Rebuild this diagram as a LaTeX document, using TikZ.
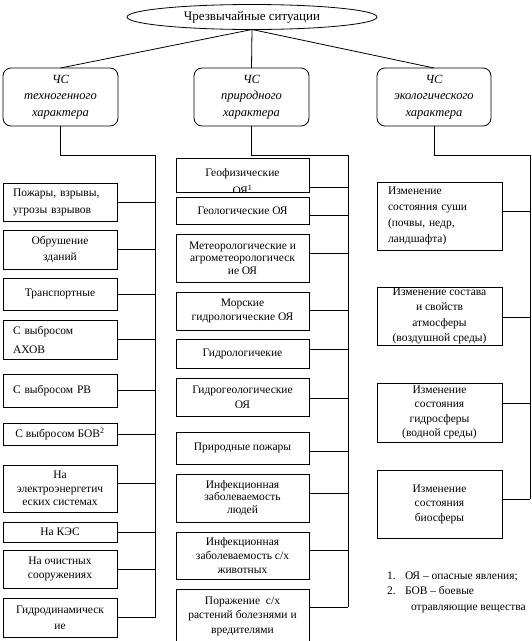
\documentclass[tikz,border=0pt]{standalone}
\usepackage{fontspec}
\setmainfont{Liberation Serif}
\usetikzlibrary{shapes.geometric}
\begin{document}
\begin{tikzpicture}[x=1pt,y=-1pt,
  every node/.style={inner sep=0pt, outer sep=0pt},
  ln/.style={line width=0.8pt},
  lead/.style={font=\fontsize{11.5}{#1}\selectfont},
  box/.style={draw, ln, rectangle, align=center, lead=13},
  lbox/.style={box, minimum width=114pt},
  mbox/.style={box, minimum width=133pt},
  rbox/.style={box, minimum width=125pt},
  lefttext/.style={align=left, text width=#1, inner xsep=10pt},
  cat/.style={draw, ln, rounded corners=8pt, minimum height=58pt, align=center,
    font=\fontsize{12.5}{16.5}\selectfont\itshape},
  fn/.style={anchor=base west, font=\fontsize{11.5}{13}\selectfont}]
\useasboundingbox (0,0) rectangle (532,641);
\fill[white] (0,0) rectangle (532,641);

% top
\node[draw, ln, ellipse, minimum width=250pt, minimum height=25pt, font=\fontsize{13}{15}\selectfont] (top) at (252,17) {Чрезвычайные ситуации};

% categories
\node[cat, minimum width=115pt] (c1) at (60.5,97) {ЧС\\техногенного\\характера};
\node[cat, minimum width=115pt] (c2) at (251.5,97) {ЧС\\природного\\характера};
\node[cat, minimum width=114pt] (c3) at (434,97) {ЧС\\экологического\\характера};

\draw[ln] (top.south) -- (c1.north);
\draw[ln] (top.south) -- (c2.north);
\draw[ln] (top.south) -- (c3.north);

% left column
\node[lbox, minimum height=38pt, lefttext=94pt, lead=17] (l1) at (60,202) {Пожары, взрывы,\\угрозы взрывов};
\node[lbox, minimum height=39pt, lead=16.7] (l2) at (60,249.5) {Обрушение\\зданий};
\node[lbox, minimum height=32pt] (l3) at (60,294) {Транспортные};
\node[lbox, minimum height=39pt, lefttext=94pt, lead=19] (l4) at (60,339.5) {С выбросом\\АХОВ};
\node[lbox, minimum height=33pt, lefttext=94pt] (l5) at (60,390.5) {С выбросом РВ};
\node[lbox, minimum height=22pt] (l6) at (60,434) {С выбросом БОВ\textsuperscript{2}};
\node[lbox, minimum height=47pt, lead=13.5] (l7) at (60,488.5) {На\\электроэнергетич\\еских системах};
\node[lbox, minimum height=20pt] (l8) at (60,532) {На КЭС};
\node[lbox, minimum height=38pt, lead=13.5] (l9) at (60,569) {На очистных\\сооружениях};
\node[lbox, minimum height=39pt, lead=16] (l10) at (60,617.5) {Гидродинамическ\\ие};

\coordinate (lb0) at (155,155);
\coordinate (lbe) at (155,618);
\draw[ln] (c1.south) |- (lb0) -- (lbe);
\foreach \n in {l1,l2,l3,l4,l5,l6,l8,l9,l10}
  \draw[ln] (\n.east) -- (\n.east -| lb0);
\coordinate (lb7) at (155,483);
\draw[ln] (lb7) -- (lb7 -| l7.east);

% middle column
\node[mbox, minimum height=34pt] (m1) at (242.5,175) {};
\begin{scope}
  \clip (m1.south west) rectangle (m1.north east);
  \node[lead=18, align=center] (m1t) at (242.5,182) {Геофизические\\ОЯ\textsuperscript{1}};
\end{scope}
\node[mbox, minimum height=27pt] (m2) at (242.5,210.5) {Геологические ОЯ};
\node[mbox, minimum height=48pt, lead=12.5] (m3) at (242.5,258) {Метеорологические и\\агрометеорологическ\\ие ОЯ};
\node[mbox, minimum height=38pt, lead=13.5] (m4) at (242.5,311) {Морские\\гидрологические ОЯ};
\node[mbox, minimum height=29pt] (m5) at (242.5,353.5) {Гидрологичекие};
\node[mbox, minimum height=38pt, lead=15] (m6) at (242.5,397) {Гидрогеологические\\ОЯ};
\node[mbox, minimum height=32pt] (m7) at (242.5,448) {Природные пожары};
\node[mbox, minimum height=48pt, lead=12.5] (m8) at (242.5,498) {Инфекционная\\заболеваемость\\людей};
\node[mbox, minimum height=47pt, lead=14] (m9) at (242.5,555.5) {Инфекционная\\заболеваемость с/х\\животных};
\node[mbox, minimum height=54pt, lead=14.5] (m10) at (242.5,616) {Поражение~ с/х\\растений болезнями и\\вредителями};

\coordinate (mb0) at (348,155);
\coordinate (mbe) at (348,607);
\draw[ln] (c2.south) |- (mb0) -- (mbe);
\coordinate (mb1) at (348,187);
\coordinate (mb2) at (348,215);
\coordinate (mb3) at (348,253);
\coordinate (mb4) at (348,310);
\coordinate (mb5) at (348,349);
\coordinate (mb6) at (348,398);
\coordinate (mb7) at (348,451);
\coordinate (mb8) at (348,493);
\coordinate (mb9) at (348,550);
\coordinate (mb10) at (348,607);
\foreach \i in {1,...,10}
  \draw[ln] (mb\i) -- (mb\i -| m\i.east);

% right column
\node[rbox, minimum height=68pt, lefttext=103pt, inner xsep=11pt, lead=16] (r1) at (439.5,216) {Изменение\\состояния суши\\(почвы, недр,\\ландшафта)};
\node[rbox, minimum height=58pt, lead=15.5] (r2) at (439.5,316) {Изменение состава\\и свойств\\атмосферы\\(воздушной среды)};
\node[rbox, minimum height=59pt, lead=14.5] (r3) at (439.5,412.5) {Изменение\\состояния\\гидросферы\\(водной среды)};
\node[rbox, minimum height=68pt, lead=14.5] (r4) at (439.5,504) {Изменение\\состояния\\биосферы};

\coordinate (rb0) at (530,155);
\coordinate (rbe) at (530,499);
\draw[ln] (c3.south) |- (rb0) -- (rbe);
\coordinate (rb1) at (530,211);
\coordinate (rb2) at (530,317);
\coordinate (rb3) at (530,403);
\coordinate (rb4) at (530,499);
\foreach \i in {1,...,4}
  \draw[ln] (rb\i) -- (rb\i -| r\i.east);

% footnotes
\node[fn] (f1a) at (387,579) {1.};
\node[fn] (f1b) at (405,579) {ОЯ – опасные явления;};
\node[fn] (f2a) at (387,594) {2.};
\node[fn] (f2b) at (405,594) {БОВ – боевые};
\node[fn] (f2c) at (411,610) {отравляющие вещества};
\end{tikzpicture}
\end{document}
